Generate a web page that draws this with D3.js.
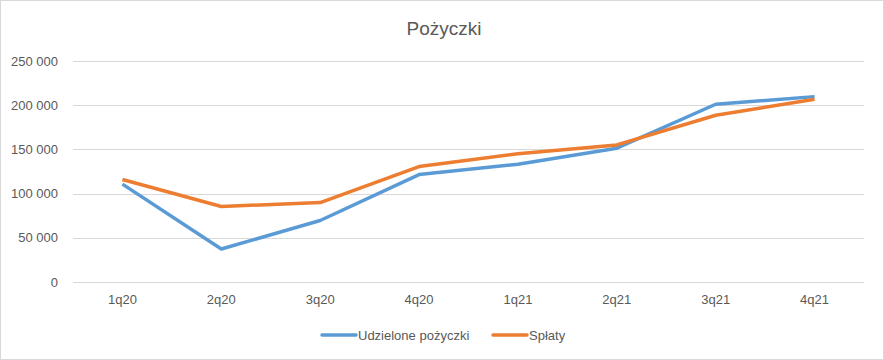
<!DOCTYPE html>
<html lang="pl">
<head>
    <meta charset="UTF-8">
    <title>Pożyczki</title>
    <script src="https://d3js.org/d3.v7.min.js"></script>
    <style>
        body { margin: 0; background: #fff; }
        text { font-family: "Liberation Sans", Arial, sans-serif; fill: #595959; }
        .grid line { stroke: #d9d9d9; }
        .axis text { font-size: 13px; }
    </style>
</head>
<body>
    <div id="chart"></div>
    <script>
        const categories = ["1q20", "2q20", "3q20", "4q20", "1q21", "2q21", "3q21", "4q21"];
        const udzielone = [110700, 37300, 69600, 121500, 133300, 151400, 201100, 209700];
        const splaty = [115900, 85400, 89900, 130600, 145000, 155100, 188600, 206700];
        const yTicks = [0, 50000, 100000, 150000, 200000, 250000];

        const series = [
            { name: "Udzielone pożyczki", values: udzielone, color: "#5b9bd5" },
            { name: "Spłaty", values: splaty, color: "#ed7d31" }
        ];

        const width = 884, height = 360;
        const margin = { top: 61, right: 20, bottom: 78, left: 73 };

        const svg = d3.select("#chart")
            .append("svg")
            .attr("width", width)
            .attr("height", height);

        svg.append("rect")
            .attr("x", 0.5).attr("y", 0.5)
            .attr("width", width - 1).attr("height", height - 1)
            .attr("fill", "#fff")
            .attr("stroke", "#d9d9d9");

        const x = d3.scaleBand()
            .domain(categories)
            .range([margin.left, width - margin.right]);

        const y = d3.scaleLinear()
            .domain([0, 250000])
            .range([height - margin.bottom, margin.top]);

        const fmt = v => d3.format(",")(v).replace(/,/g, " ");

        // gridlines
        svg.append("g")
            .attr("class", "grid")
            .selectAll("line")
            .data(yTicks)
            .join("line")
            .attr("x1", margin.left)
            .attr("x2", width - margin.right)
            .attr("y1", d => Math.round(y(d)) + 0.5)
            .attr("y2", d => Math.round(y(d)) + 0.5);

        // y axis
        const yAxis = svg.append("g")
            .attr("class", "axis")
            .attr("transform", `translate(${margin.left - 15},0)`)
            .call(d3.axisLeft(y).tickValues(yTicks).tickFormat(fmt).tickSize(0).tickPadding(0));
        yAxis.select(".domain").remove();

        // x axis
        const xAxis = svg.append("g")
            .attr("class", "axis")
            .attr("transform", `translate(0,${height - margin.bottom})`)
            .call(d3.axisBottom(x).tickSize(0).tickPadding(13));
        xAxis.select(".domain").remove();

        const line = d3.line()
            .x((d, i) => x(categories[i]) + x.bandwidth() / 2)
            .y(d => y(d));

        svg.selectAll(".series")
            .data(series)
            .join("path")
            .attr("class", "series")
            .attr("fill", "none")
            .attr("stroke", d => d.color)
            .attr("stroke-width", 3.5)
            .attr("stroke-linejoin", "round")
            .attr("d", d => line(d.values));

        // title
        svg.append("text")
            .attr("x", width / 2 + 2)
            .attr("y", 35)
            .attr("text-anchor", "middle")
            .style("font-size", "19px")
            .text("Pożyczki");

        // legend
        const legendX = [322, 493];
        const legend = svg.selectAll(".legend")
            .data(series)
            .join("g")
            .attr("class", "legend")
            .attr("transform", (d, i) => `translate(${legendX[i]},335)`);

        legend.append("line")
            .attr("x1", 0).attr("x2", 34)
            .attr("stroke", d => d.color)
            .attr("stroke-width", 3.5)
            .attr("stroke-linecap", "round");

        legend.append("text")
            .attr("x", 36)
            .attr("dy", "0.35em")
            .style("font-size", "13px")
            .text(d => d.name);
    </script>
</body>
</html>
